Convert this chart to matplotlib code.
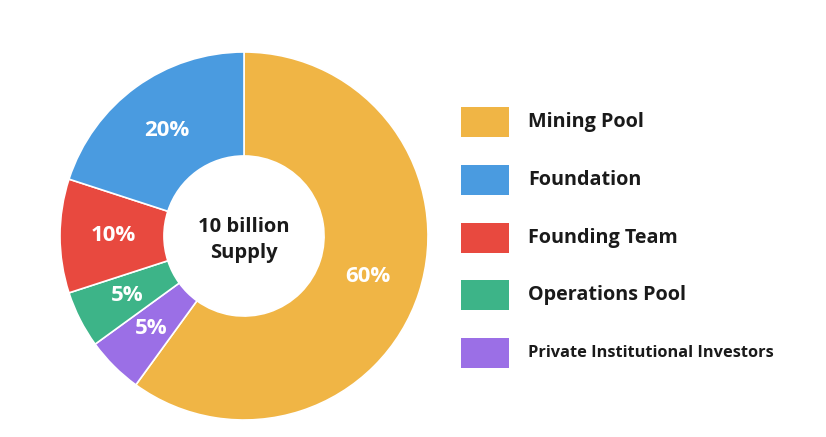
import matplotlib
matplotlib.use("Agg")
import matplotlib.pyplot as plt
from matplotlib.patches import Rectangle

# Data (pie order: clockwise from top)
pie_labels = ["Mining Pool", "Private Institutional Investors", "Operations Pool",
              "Founding Team", "Foundation"]
pie_values = [60, 5, 5, 10, 20]
pie_colors = ["#F0B545", "#9B6FE6", "#3DB488", "#E8493F", "#4A9BE0"]

legend_labels = ["Mining Pool", "Foundation", "Founding Team", "Operations Pool",
                 "Private Institutional Investors"]
center_text = "10 billion\nSupply"

color_of = dict(zip(pie_labels, pie_colors))

plt.rcParams['font.family'] = ['Open Sans', 'DejaVu Sans']

W, H = 826, 437
fig = plt.figure(figsize=(W / 100, H / 100), dpi=100)
ax = fig.add_axes([0, 0, 1, 1])

R = 184
cx, cy = 244, H - 236
wedges, texts, autotexts = ax.pie(
    pie_values, colors=pie_colors, startangle=90, counterclock=False,
    radius=R, center=(cx, cy),
    wedgeprops=dict(width=R * 0.565, edgecolor="white", linewidth=1.2),
    autopct=lambda p: f"{p:.0f}%", pctdistance=0.71,
    textprops=dict(color="white", fontsize=16, fontweight="bold"))

ax.text(cx, cy - 4, center_text, ha="center", va="center", fontsize=14.5,
        fontweight="bold", color="#1a1a1a", linespacing=1.45)

# Legend
row_y = [122, 180, 238, 295, 353]
for lab, y in zip(legend_labels, row_y):
    ax.add_patch(Rectangle((461, H - y - 15), 48, 30, facecolor=color_of[lab],
                           edgecolor="none"))
    fs = 11.8 if len(lab) > 20 else 14.2
    ax.text(528, H - y, lab, ha="left", va="center", fontsize=fs,
            fontweight="bold", color="#1a1a1a")

ax.set_xlim(0, W)
ax.set_ylim(0, H)
ax.set_aspect("equal")
ax.axis("off")

fig.savefig("out.png", dpi=100, facecolor="white")
